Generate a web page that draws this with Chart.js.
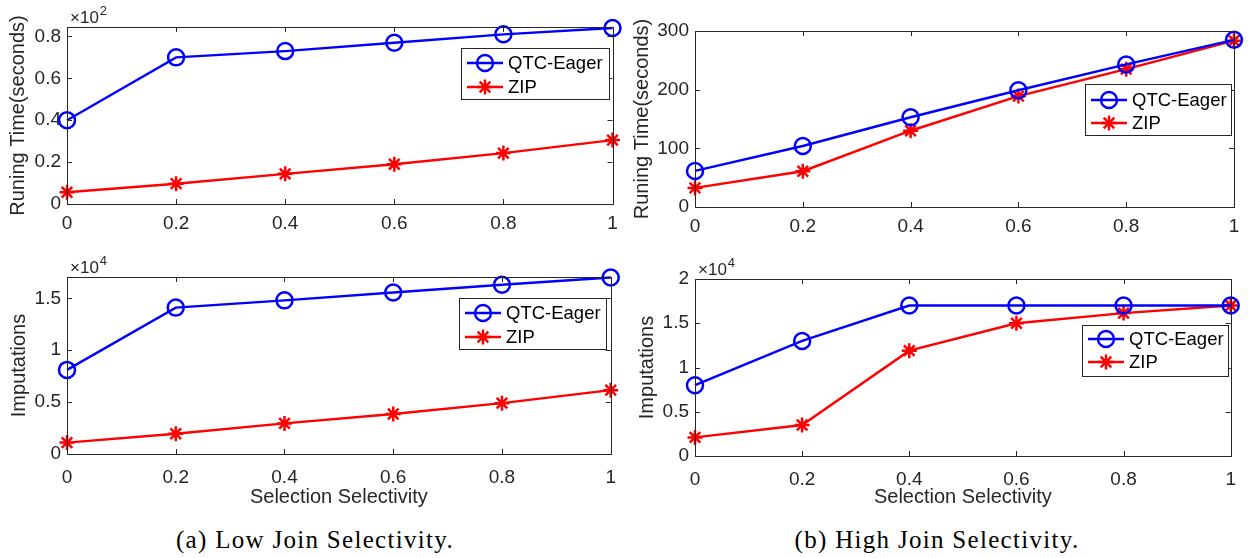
<!DOCTYPE html>
<html>
<head>
<title>Join Selectivity</title>
<script src="https://cdn.jsdelivr.net/npm/chart.js"></script>
<style>
  body { margin: 0; background: #fff; width: 1248px; height: 558px; position: relative; overflow: hidden; }
  canvas { position: absolute; }
  .cap { position: absolute; top: 527px; font-family: 'Liberation Serif', 'Times New Roman', serif; font-size: 25px; line-height: 25px; letter-spacing: 1.3px; color: #000; transform: translateX(-50%); white-space: nowrap; }
</style>
</head>
<body>
<canvas id="lowTime" width="628" height="240" style="left:0;top:0"></canvas>
<canvas id="lowImp" width="628" height="270" style="left:0;top:250px"></canvas>
<canvas id="highTime" width="620" height="240" style="left:628px;top:0"></canvas>
<canvas id="highImp" width="620" height="270" style="left:628px;top:250px"></canvas>
<div class="cap" style="left:315px">(a) Low Join Selectivity.</div>
<div class="cap" style="left:937px">(b) High Join Selectivity.</div>
<script>
// x axis: selection selectivity
const selectivity = [0, 0.2, 0.4, 0.6, 0.8, 1];
const xTicks = [0, 0.2, 0.4, 0.6, 0.8, 1];

// (a) low join selectivity
const lowTimeQtc = [0.40, 0.70, 0.73, 0.77, 0.81, 0.84];   // x10^2 seconds
const lowTimeZip = [0.056, 0.097, 0.144, 0.19, 0.243, 0.305];
const lowTimeTicks = [0, 0.2, 0.4, 0.6, 0.8];
const lowImpQtc = [0.81, 1.41, 1.48, 1.555, 1.63, 1.70];   // x10^4
const lowImpZip = [0.11, 0.195, 0.295, 0.385, 0.49, 0.615];
const lowImpTicks = [0, 0.5, 1, 1.5];

// (b) high join selectivity
const highTimeQtc = [61.5, 104, 153, 199, 243, 285];        // seconds
const highTimeZip = [32.5, 61, 130, 189, 235, 283.5];
const highTimeTicks = [0, 100, 200, 300];
const highImpQtc = [0.80, 1.30, 1.70, 1.70, 1.70, 1.70];   // x10^4
const highImpZip = [0.21, 0.35, 1.19, 1.50, 1.615, 1.70];
const highImpTicks = [0, 0.5, 1, 1.5, 2];

const seriesNames = ['QTC-Eager', 'ZIP'];

const FONT = "'Liberation Sans', Arial, sans-serif";
Chart.defaults.font.family = FONT;
Chart.defaults.color = '#262626';

// MATLAB-like box, inward ticks, exponent label and legend inside the axes
const matlabFrame = {
  id: 'matlabFrame',
  afterDatasetsDraw(chart, args, opts) {
    const { ctx, chartArea: a, scales: { x, y } } = chart;
    ctx.save();
    ctx.strokeStyle = '#262626';
    ctx.lineWidth = 1;
    ctx.strokeRect(Math.round(a.left) + 0.5, Math.round(a.top) + 0.5, Math.round(a.width), Math.round(a.height));
    ctx.beginPath();
    x.ticks.forEach(t => {
      const px = Math.round(x.getPixelForValue(t.value)) + 0.5;
      ctx.moveTo(px, a.bottom); ctx.lineTo(px, a.bottom - 5);
      ctx.moveTo(px, a.top); ctx.lineTo(px, a.top + 5);
    });
    y.ticks.forEach(t => {
      const py = Math.round(y.getPixelForValue(t.value)) + 0.5;
      ctx.moveTo(a.left, py); ctx.lineTo(a.left + 5, py);
      ctx.moveTo(a.right, py); ctx.lineTo(a.right - 5, py);
    });
    ctx.stroke();

    // exponent label
    if (opts.exponent) {
      ctx.fillStyle = '#262626';
      ctx.textBaseline = 'alphabetic';
      ctx.textAlign = 'left';
      ctx.font = '17px ' + FONT;
      const base = '\u00d710';
      ctx.fillText(base, a.left + 3, a.top - 4);
      const w = ctx.measureText(base).width;
      ctx.font = '13px ' + FONT;
      ctx.fillText(opts.exponent, a.left + 3 + w + 1, a.top - 12);
    }

    // legend
    const lb = opts.legend;
    const bx = Math.round(a.right - lb.right - lb.w);
    const by = Math.round(a.top + lb.top);
    ctx.fillStyle = '#fff';
    ctx.fillRect(bx, by, lb.w, lb.h);
    ctx.strokeStyle = '#262626';
    ctx.lineWidth = 1;
    ctx.strokeRect(bx + 0.5, by + 0.5, lb.w, lb.h);
    chart.data.datasets.forEach((ds, i) => {
      const ry = by + lb.rows[i];
      ctx.strokeStyle = ds.borderColor;
      ctx.lineWidth = ds.borderWidth;
      ctx.beginPath();
      ctx.moveTo(bx + 6, ry); ctx.lineTo(bx + 42, ry);
      ctx.stroke();
      ctx.fillStyle = 'rgba(0,0,0,0)';
      Chart.helpers.drawPoint(ctx, {
        pointStyle: ds.pointStyle, radius: ds.pointRadius, borderWidth: ds.pointBorderWidth, rotation: 0
      }, bx + 24, ry);
      ctx.fillStyle = '#000';
      ctx.font = '18.5px ' + FONT;
      ctx.textAlign = 'left';
      ctx.textBaseline = 'middle';
      ctx.fillText(ds.label, bx + 47, ry + 1);
    });
    ctx.restore();
  }
};

function series(values, i) {
  const blue = i === 0;
  return {
    label: seriesNames[i],
    data: selectivity.map((s, k) => ({ x: s, y: values[k] })),
    borderColor: blue ? '#0000ff' : '#ff0000',
    backgroundColor: blue ? '#0000ff' : '#ff0000',
    borderWidth: 2.4,
    pointStyle: blue ? 'circle' : 'star',
    pointRadius: blue ? 8 : 7.5,
    pointBorderWidth: 2.5,
    pointBackgroundColor: 'rgba(0,0,0,0)',
    tension: 0,
    clip: false
  };
}

function makeChart(id, c) {
  new Chart(document.getElementById(id), {
    type: 'line',
    data: { datasets: [series(c.qtc, 0), series(c.zip, 1)] },
    options: {
      responsive: false,
      animation: false,
      events: [],
      layout: { padding: c.pad },
      plugins: {
        legend: { display: false },
        tooltip: { enabled: false },
        matlabFrame: { exponent: c.exponent, legend: c.legend }
      },
      scales: {
        x: {
          type: 'linear', min: 0, max: 1,
          afterBuildTicks: s => { s.ticks = xTicks.map(v => ({ value: v })); },
          afterFit: s => { s.height = c.xHeight; },
          ticks: { font: { size: 19 }, padding: c.xPad, maxRotation: 0, autoSkip: false, callback: v => String(v) },
          grid: { display: false, drawTicks: false },
          border: { display: false },
          title: { display: !!c.xTitle, text: c.xTitle || '', font: { size: 20 }, padding: { top: 0, bottom: 11 } }
        },
        y: {
          type: 'linear', min: 0, max: c.yMax,
          afterBuildTicks: s => { s.ticks = c.yTicks.map(v => ({ value: v })); },
          afterFit: s => { s.width = c.yWidth; },
          ticks: { font: { size: 19 }, padding: 6, callback: v => String(v) },
          grid: { display: false, drawTicks: false },
          border: { display: false },
          title: { display: true, text: c.yTitle, font: { size: 20 }, padding: { top: 0, bottom: 0 } }
        }
      }
    },
    plugins: [matlabFrame]
  });
}

makeChart('lowTime', {
  qtc: lowTimeQtc, zip: lowTimeZip, yMax: 0.845, yTicks: lowTimeTicks, exponent: '2',
  yTitle: 'Runing Time(seconds)', pad: { left: 6, top: 27, right: 15.5, bottom: 0 },
  yWidth: 61, xHeight: 36, xPad: 8,
  legend: { right: 4, top: 21, w: 148, h: 51, rows: [15, 39] }
});
makeChart('lowImp', {
  qtc: lowImpQtc, zip: lowImpZip, yMax: 1.705, yTicks: lowImpTicks, exponent: '4',
  yTitle: 'Imputations', xTitle: 'Selection Selectivity', pad: { left: 7, top: 27, right: 15.5, bottom: 0 },
  yWidth: 60, xHeight: 66, xPad: 12,
  legend: { right: 5, top: 21, w: 147, h: 51, rows: [15, 39] }
});
makeChart('highTime', {
  qtc: highTimeQtc, zip: highTimeZip, yMax: 300, yTicks: highTimeTicks, exponent: null,
  yTitle: 'Runing Time(seconds)', pad: { left: 2, top: 31, right: 14, bottom: 0 },
  yWidth: 65, xHeight: 33, xPad: 8,
  legend: { right: 3, top: 53, w: 146, h: 51, rows: [16, 39] }
});
makeChart('highImp', {
  qtc: highImpQtc, zip: highImpZip, yMax: 2, yTicks: highImpTicks, exponent: '4',
  yTitle: 'Imputations', xTitle: 'Selection Selectivity', pad: { left: 7, top: 29, right: 14, bottom: 0 },
  yWidth: 60, xHeight: 64, xPad: 12,
  legend: { right: 2.5, top: 46, w: 146, h: 51, rows: [14, 37] }
});
</script>
</body>
</html>
